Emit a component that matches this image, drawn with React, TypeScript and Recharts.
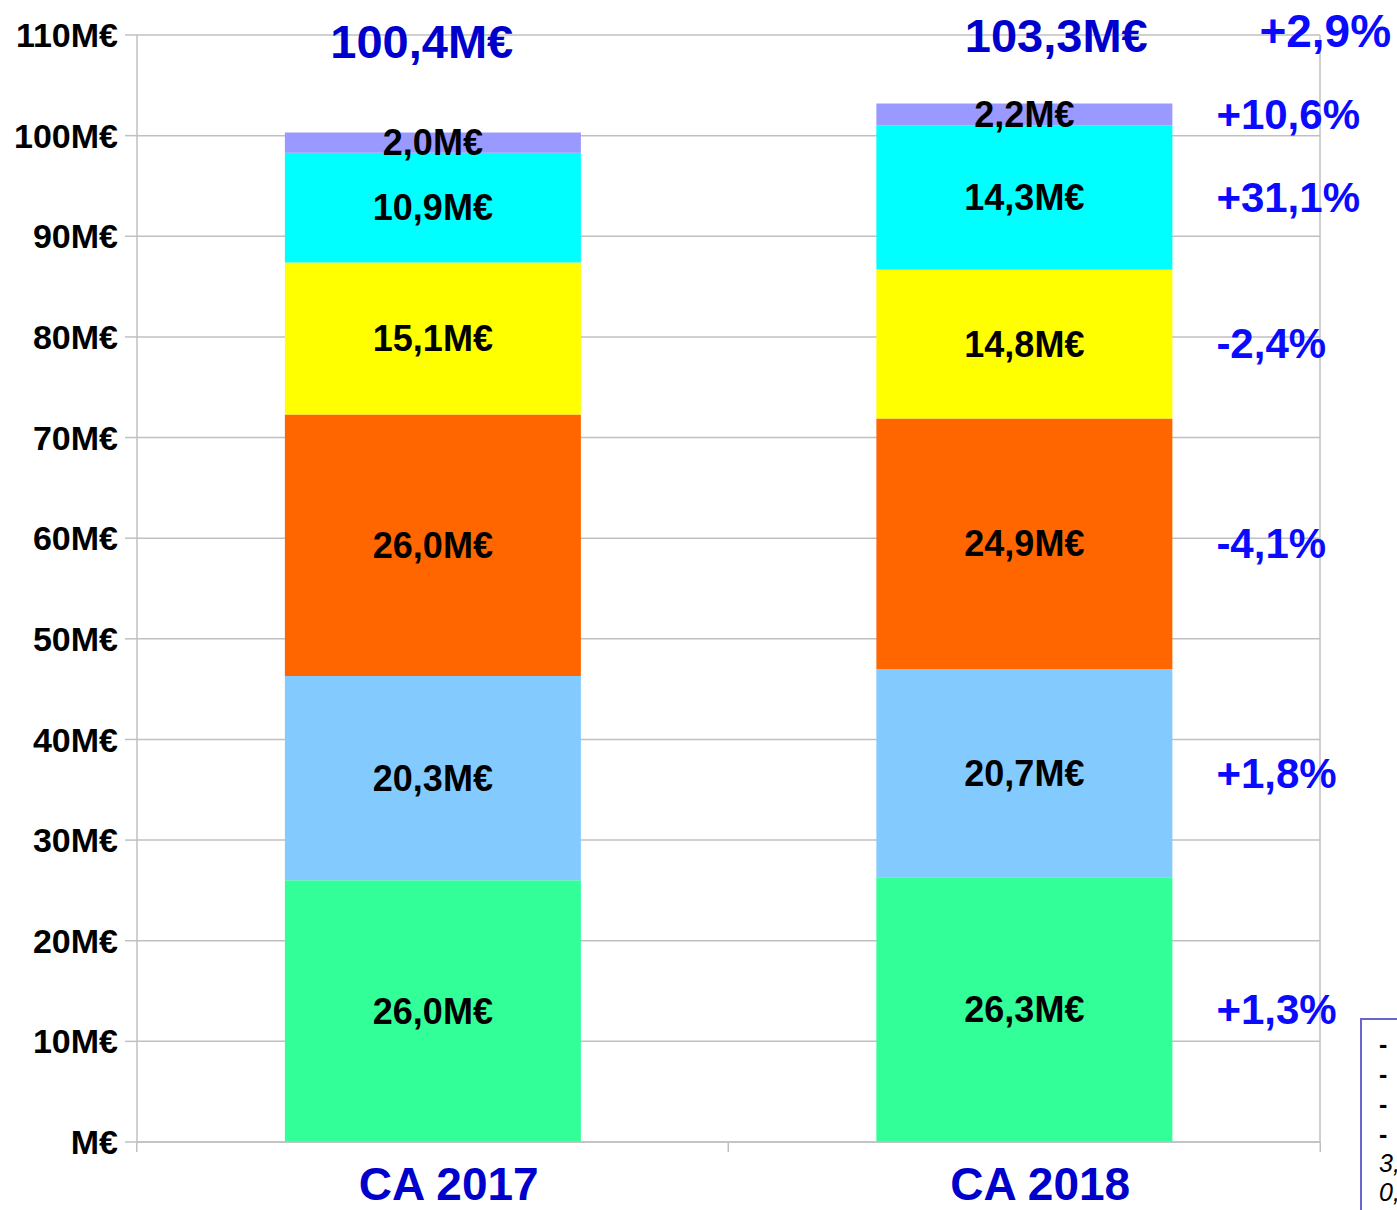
import React from 'react';
import {
  BarChart,
  Bar,
  XAxis,
  YAxis,
  CartesianGrid,
  LabelList,
  ReferenceDot,
} from 'recharts';

const categories = ['CA 2017', 'CA 2018'];
const partA = [26.0, 26.3];
const partB = [20.3, 20.7];
const partC = [26.0, 24.9];
const partD = [15.1, 14.8];
const partE = [10.9, 14.3];
const partF = [2.0, 2.2];
const totals = ['100,4M€', '103,3M€'];
const changes = ['+1,3%', '+1,8%', '-4,1%', '-2,4%', '+31,1%', '+10,6%'];
const totalChange = '+2,9%';
const yTicks = [0, 10, 20, 30, 40, 50, 60, 70, 80, 90, 100, 110];

const series = [
  { key: 'a', values: partA, color: '#33ff99' },
  { key: 'b', values: partB, color: '#83caff' },
  { key: 'c', values: partC, color: '#ff6600' },
  { key: 'd', values: partD, color: '#ffff00' },
  { key: 'e', values: partE, color: '#00ffff' },
  { key: 'f', values: partF, color: '#9999ff' },
];

const data = categories.map((name, i) => {
  const row: Record<string, any> = { name };
  series.forEach((s) => (row[s.key] = s.values[i]));
  return row;
});

const W = 1397;
const H = 1210;
const margin = { top: 35, right: 76, bottom: 38, left: 0 };
const Y_W = 137;
const X_H = 30;
const FONT = '"Liberation Sans", Arial, sans-serif';
const GRID = '#c0c0c0';
const halfBand = (W - margin.right - Y_W) / categories.length / 2;

const fmt = (v: number) => `${v.toFixed(1).replace('.', ',')}M€`;

function XTick(props: any) {
  const { x, y, payload, index } = props;
  return (
    <g>
      <line x1={x - halfBand} x2={x - halfBand} y1={y} y2={y + 10} stroke={GRID} strokeWidth={1.5} />
      {index === categories.length - 1 && (
        <line x1={x + halfBand} x2={x + halfBand} y1={y} y2={y + 10} stroke={GRID} strokeWidth={1.5} />
      )}
      <text
        x={x + 16}
        y={y + 58}
        textAnchor="middle"
        fontFamily={FONT}
        fontWeight="bold"
        fontSize={46}
        fill="#0000cc"
      >
        {payload.value}
      </text>
    </g>
  );
}

function changeLabel(change: string) {
  return (props: any) => {
    const { x, y, width, height, index } = props;
    if (index !== 1) return null;
    return (
      <text
        x={x + width + 44}
        y={y + height / 2}
        dominantBaseline="central"
        fontFamily={FONT}
        fontWeight="bold"
        fontSize={42}
        fill="#0a0aff"
      >
        {change}
      </text>
    );
  };
}

export default function App() {
  return (
    <div style={{ position: 'absolute', left: 0, top: 0, width: W, height: H, overflow: 'hidden', background: '#fff' }}>
      <BarChart width={W} height={H} data={data} margin={margin} barCategoryGap="25%">
        <CartesianGrid horizontal vertical={false} stroke={GRID} strokeWidth={1.5} />
        <XAxis
          dataKey="name"
          height={X_H}
          axisLine={{ stroke: GRID, strokeWidth: 1.5 }}
          tickLine={false}
          tickSize={0}
          tickMargin={0}
          tick={<XTick />}
          interval={0}
        />
        <YAxis
          width={Y_W}
          domain={[0, 110]}
          ticks={yTicks}
          interval={0}
          tickFormatter={(v: number) => (v === 0 ? 'M€' : `${v}M€`)}
          axisLine={{ stroke: GRID, strokeWidth: 1.5 }}
          tickLine={{ stroke: GRID, strokeWidth: 1.5 }}
          tickSize={12}
          tickMargin={7}
          tick={{ fontFamily: FONT, fontWeight: 'bold', fontSize: 34, fill: '#000' }}
        />
        <YAxis
          yAxisId="right"
          orientation="right"
          width={1}
          domain={[0, 110]}
          tick={false}
          tickLine={false}
          axisLine={{ stroke: GRID, strokeWidth: 1.5 }}
        />
        {series.map((s, i) => (
          <Bar key={s.key} dataKey={s.key} stackId="ca" fill={s.color} isAnimationActive={false}>
            <LabelList
              dataKey={s.key}
              position="center"
              formatter={(v: any) => fmt(Number(v))}
              style={{ fontFamily: FONT, fontWeight: 'bold', fontSize: 36, fill: '#000' }}
            />
            <LabelList dataKey={s.key} content={changeLabel(changes[i])} />
          </Bar>
        ))}
        {categories.map((c, i) => (
          <ReferenceDot
            key={c}
            x={c}
            y={110}
            r={0}
            stroke="none"
            label={{
              value: totals[i],
              position: 'center',
              dx: i === 0 ? -11 : 32,
              dy: i === 0 ? 6 : 0,
              fontFamily: FONT,
              fontWeight: 'bold',
              fontSize: 47,
              fill: '#0000cc',
            }}
          />
        ))}
        <ReferenceDot
          x={categories[1]}
          y={110}
          r={0}
          stroke="none"
          label={{
            value: totalChange,
            position: 'center',
            dx: 301,
            dy: -4,
            fontFamily: FONT,
            fontWeight: 'bold',
            fontSize: 46,
            fill: '#0a0aff',
          }}
        />
      </BarChart>
      <div
        style={{
          position: 'absolute',
          left: 1360,
          top: 1018,
          width: 200,
          height: 300,
          border: '2px solid #6666cc',
          background: '#fff',
          fontFamily: FONT,
          fontSize: 25,
          lineHeight: '30px',
          paddingLeft: 17,
          paddingTop: 9,
          color: '#000',
        }}
      >
        <div style={{ fontWeight: 'bold' }}>-</div>
        <div style={{ fontWeight: 'bold' }}>-</div>
        <div style={{ fontWeight: 'bold' }}>-</div>
        <div style={{ fontWeight: 'bold' }}>-</div>
        <div style={{ fontStyle: 'italic', lineHeight: '29px' }}>3,</div>
        <div style={{ fontStyle: 'italic', lineHeight: '29px' }}>0,</div>
      </div>
    </div>
  );
}
